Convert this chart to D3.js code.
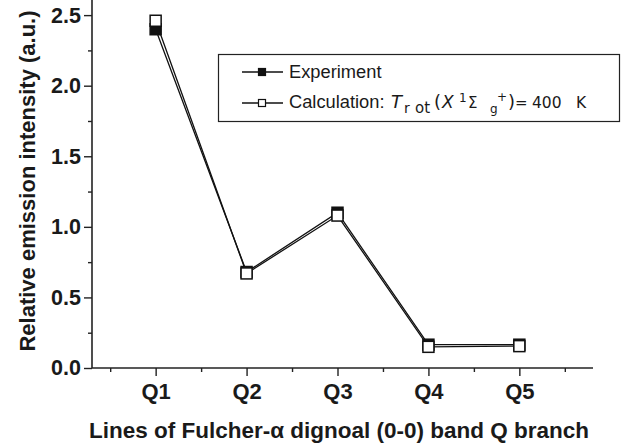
<!DOCTYPE html>
<html><head><meta charset="utf-8">
<script src="https://cdn.jsdelivr.net/npm/d3@7/dist/d3.min.js"></script>
<style>body{margin:0;background:#fff}svg{display:block}</style>
</head><body><svg id="c" width="631" height="446"></svg>
<script>
const categories = ["Q1","Q2","Q3","Q4","Q5"];
const experiment = [2.40, 0.68, 1.10, 0.165, 0.165];
const calculation = [2.46, 0.67, 1.08, 0.15, 0.155];
const yTicks = [0.0, 0.5, 1.0, 1.5, 2.0, 2.5];
const yMinorTicks = [0.25, 0.75, 1.25, 1.75, 2.25];
const xMinorTicks = [0.5, 1.5, 2.5, 3.5, 4.5, 5.5];

(function(){
const svg = d3.select("#c");
const pl = 92, pr = 593, pt = 1, pb = 368;
const x = d3.scaleLinear().domain([0.3, 5.81]).range([pl, pr]);
const y = d3.scaleLinear().domain([0, 2.6]).range([pb, pt]);
const font = "'Liberation Sans', Arial, sans-serif";
const ink = "#1a1a1a";

// axes
const yAxis = d3.axisLeft(y).tickValues(yTicks).tickFormat(d3.format(".1f")).tickSize(8).tickPadding(3);
const gy = svg.append("g").attr("transform", `translate(${pl},0)`).call(yAxis);
gy.selectAll(".tick text").attr("font-family", font).attr("font-weight", "bold").attr("font-size", 21.5).attr("fill",ink);
const yMinor = d3.axisLeft(y).tickValues(yMinorTicks).tickFormat("").tickSize(4);
const gym = svg.append("g").attr("transform", `translate(${pl},0)`).call(yMinor);
gym.select(".domain").remove();

const xAxis = d3.axisBottom(x).tickValues(categories.map((d,i)=>i+1)).tickFormat((d,i)=>categories[i]).tickSize(8).tickPadding(7);
const gx = svg.append("g").attr("transform", `translate(0,${pb})`).call(xAxis);
gx.selectAll(".tick text").attr("font-family", font).attr("font-weight", "bold").attr("font-size", 22).attr("fill",ink);
const xMinor = d3.axisBottom(x).tickValues(xMinorTicks).tickFormat("").tickSize(4);
const gxm = svg.append("g").attr("transform", `translate(0,${pb})`).call(xMinor);
gxm.select(".domain").remove();

svg.selectAll(".domain").attr("stroke","#222").attr("stroke-width",1.6);
svg.selectAll(".tick line").attr("stroke","#222").attr("stroke-width",1.4);
gx.select(".domain").attr("d", `M${pl},0H${pr}`);
gy.select(".domain").attr("d", `M0,${pb}V${pt-1}`);

// lines
const line = d3.line().x((d,i)=>x(i+1)).y(d=>y(d));
svg.append("path").datum(experiment).attr("d", line).attr("fill","none").attr("stroke","#111").attr("stroke-width",1.3);
svg.append("path").datum(calculation).attr("d", line).attr("fill","none").attr("stroke","#111").attr("stroke-width",1.3);

const s = 11;
svg.selectAll(".mexp").data(experiment).enter().append("rect")
  .attr("x",(d,i)=>x(i+1)-s/2).attr("y",d=>y(d)-s/2).attr("width",s).attr("height",s)
  .attr("fill","#111").attr("stroke","#111").attr("stroke-width",1.5);
svg.selectAll(".mcal").data(calculation).enter().append("rect")
  .attr("x",(d,i)=>x(i+1)-s/2).attr("y",d=>y(d)-s/2).attr("width",s).attr("height",s)
  .attr("fill","#fff").attr("stroke","#111").attr("stroke-width",1.5);

// axis titles
svg.append("text").attr("transform","translate(35,181) rotate(-90)").attr("text-anchor","middle")
  .attr("font-family",font).attr("font-weight","bold").attr("font-size",22).attr("fill",ink)
  .text("Relative emission intensity (a.u.)");
svg.append("text").attr("x",339).attr("y",438).attr("text-anchor","middle")
  .attr("font-family",font).attr("font-weight","bold").attr("font-size",22.5).attr("fill",ink)
  .text("Lines of Fulcher-α dignoal (0-0) band Q branch");

// legend
const lg = svg.append("g");
lg.append("rect").attr("x",218.5).attr("y",54.5).attr("width",401).attr("height",67).attr("fill","#fff").attr("stroke","#222").attr("stroke-width",1.2);
const rows = [{y:72, fill:"#111"}, {y:103, fill:"#fff"}];
rows.forEach(r=>{
  lg.append("line").attr("x1",242).attr("x2",283).attr("y1",r.y).attr("y2",r.y).attr("stroke","#111").attr("stroke-width",1.3);
  lg.append("rect").attr("x",258.5).attr("y",r.y-3.5).attr("width",7).attr("height",7).attr("fill",r.fill).attr("stroke","#111").attr("stroke-width",1.2);
});
lg.append("text").attr("x",289).attr("y",78).attr("font-family",font).attr("font-size",18.3).attr("fill",ink).text("Experiment");
lg.append("text").attr("x",289).attr("y",108).attr("font-family",font).attr("font-size",18.3).attr("fill",ink).text("Calculation:");
const dj = "'DejaVu Sans', sans-serif";
const parts = [
  {t:"T", x:391, y:108, s:18, it:true},
  {t:"r", x:404, y:113, s:14},
  {t:"ot", x:415, y:113, s:15},
  {t:"(", x:434, y:108, s:18},
  {t:"X", x:442, y:108, s:17, it:true},
  {t:"1", x:459, y:102, s:12},
  {t:"Σ", x:468, y:108, s:15},
  {t:"g", x:490, y:113, s:12},
  {t:"+", x:497, y:101, s:12},
  {t:")", x:508, y:108, s:18},
  {t:"=", x:515, y:108, s:15},
  {t:"400", x:532, y:108, s:15.5},
  {t:"K", x:576, y:108, s:15.5}
];
lg.selectAll(".math").data(parts).enter().append("text")
  .attr("x",d=>d.x).attr("y",d=>d.y).attr("font-family",dj).attr("font-size",d=>d.s)
  .attr("font-style",d=>d.it?"italic":"normal").attr("fill",ink).text(d=>d.t);
})();
</script></body></html>
